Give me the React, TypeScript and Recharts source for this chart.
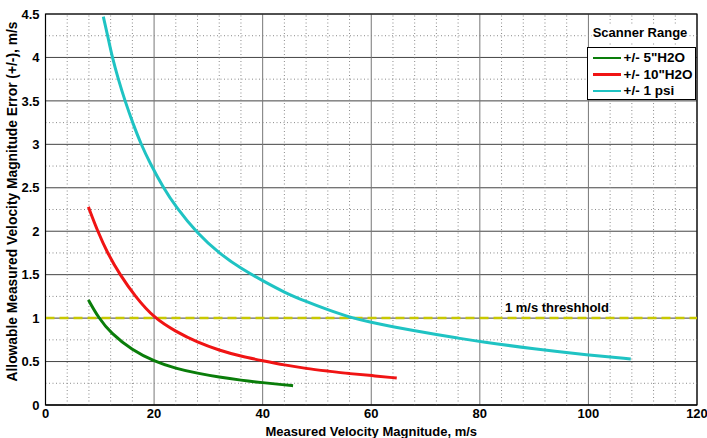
import React from "react";
import {
  LineChart,
  Line,
  XAxis,
  YAxis,
  CartesianGrid,
  ReferenceLine,
  ReferenceArea,
} from "recharts";

const h2o5X = [7.9, 9.8, 12, 16, 20, 24, 28, 32, 36, 40, 44, 45.6];
const h2o5Y = [1.21, 1.0, 0.83, 0.63, 0.505, 0.42, 0.365, 0.32, 0.285, 0.257, 0.232, 0.222];

const h2o10X = [7.9, 9.6, 11.4, 13.7, 16.5, 20, 24, 28, 32, 36, 40, 44, 48, 52, 56, 60, 64.7];
const h2o10Y = [2.28, 2.0, 1.75, 1.5, 1.25, 1.0, 0.845, 0.72, 0.63, 0.56, 0.51, 0.46, 0.42, 0.39, 0.36, 0.34, 0.31];

const psi1X = [10.65, 11.45, 12.3, 13.4, 14.64, 16.05, 17.6, 19.2, 21.7, 24, 28, 32, 36, 40, 44, 48, 52, 56, 60, 64, 68, 72, 76, 80, 90, 100, 107.8];
const psi1Y = [4.47, 4.25, 4.0, 3.75, 3.5, 3.25, 3.0, 2.79, 2.5, 2.28, 1.97, 1.745, 1.57, 1.43, 1.295, 1.19, 1.095, 1.01, 0.95, 0.9, 0.855, 0.81, 0.77, 0.73, 0.645, 0.575, 0.53];

const xTicks = [0, 20, 40, 60, 80, 100, 120];
const yTicks = [0, 0.5, 1, 1.5, 2, 2.5, 3, 3.5, 4, 4.5];
const xMinor = [4, 8, 12, 16, 24, 28, 32, 36, 44, 48, 52, 56, 64, 68, 72, 76, 84, 88, 92, 96, 104, 108, 112, 116];
const yMinor = [0.25, 0.75, 1.25, 1.75, 2.25, 2.75, 3.25, 3.75, 4.25];

const threshold = 1;

const series = [
  { name: '+/- 5"H2O', xs: h2o5X, ys: h2o5Y, color: "#0a7d0a" },
  { name: '+/- 10"H2O', xs: h2o10X, ys: h2o10Y, color: "#f01414" },
  { name: "+/- 1 psi", xs: psi1X, ys: psi1Y, color: "#1fc3c3" },
];

const FONT = '"Liberation Sans", Arial, sans-serif';

const toPoints = (xs: number[], ys: number[]) =>
  xs.map((x, i) => ({ x, y: ys[i] }));

const YTitle = (props: any) => {
  const vb = props.viewBox;
  const cy = vb.y + vb.height / 2 - 8;
  return (
    <text
      x={16.5}
      y={cy}
      transform={`rotate(-90, 16.5, ${cy})`}
      textAnchor="middle"
      fontFamily={FONT}
      fontWeight="bold"
      fontSize={13.8}
      fill="#000"
    >
      Allowable Measured Velocity Magnitude Error (+/-), m/s
    </text>
  );
};

const XTitle = (props: any) => {
  const vb = props.viewBox;
  return (
    <text
      x={vb.x + vb.width / 2}
      y={vb.y + 31}
      textAnchor="middle"
      fontFamily={FONT}
      fontWeight="bold"
      fontSize={13}
      fill="#000"
    >
      Measured Velocity Magnitude, m/s
    </text>
  );
};

const ThresholdLabel = (props: any) => {
  const vb = props.viewBox;
  return (
    <text
      x={vb.x + vb.width * 0.785}
      y={vb.y - 6}
      textAnchor="middle"
      fontFamily={FONT}
      fontWeight="bold"
      fontSize={13}
      fill="#000"
    >
      1 m/s threshhold
    </text>
  );
};

export default function App() {
  const tickStyle = {
    fontFamily: FONT,
    fontWeight: "bold" as const,
    fontSize: 13,
    fill: "#000",
  };

  return (
    <div
      style={{
        position: "absolute",
        left: 0,
        top: 0,
        width: 707,
        height: 438,
        background: "#fff",
      }}
    >
      <LineChart
        width={707}
        height={438}
        margin={{ top: 14, right: 10, left: 0, bottom: 0 }}
      >
        <XAxis
          type="number"
          dataKey="x"
          domain={[0, 120]}
          ticks={xTicks}
          allowDataOverflow
          tickLine={false}
          tickSize={0}
          tickMargin={4}
          axisLine={{ stroke: "#000" }}
          tick={tickStyle}
          height={33}
          label={{ content: XTitle }}
        />
        <YAxis
          type="number"
          domain={[0, 4.5]}
          ticks={yTicks}
          allowDataOverflow
          tickLine={false}
          tickSize={0}
          tickMargin={6}
          axisLine={{ stroke: "#000" }}
          tick={tickStyle}
          width={45.5}
          label={{ content: YTitle }}
        />
        <CartesianGrid vertical={false} stroke="#444" strokeWidth={1} />
        <CartesianGrid horizontal={false} stroke="#777" strokeWidth={1} />
        {xMinor.map((v) => (
          <ReferenceLine
            key={`xm-${v}`}
            x={v}
            stroke="#8a8a8a"
            strokeWidth={1}
            strokeDasharray="1 2.5"
          />
        ))}
        {yMinor.map((v) => (
          <ReferenceLine
            key={`ym-${v}`}
            y={v}
            stroke="#8a8a8a"
            strokeWidth={1}
            strokeDasharray="1 2.5"
          />
        ))}
        <ReferenceLine
          y={threshold}
          stroke="#c8c800"
          strokeWidth={2.5}
          strokeDasharray="9 5"
          label={{ content: ThresholdLabel }}
        />
        {series.map((s) => (
          <Line
            key={s.name}
            data={toPoints(s.xs, s.ys)}
            dataKey="y"
            name={s.name}
            type="basis"
            stroke={s.color}
            strokeWidth={3}
            dot={false}
            isAnimationActive={false}
          />
        ))}
        <ReferenceArea
          x1={0}
          x2={120}
          y1={0}
          y2={4.5}
          fill="none"
          fillOpacity={0}
          stroke="#000"
          strokeWidth={1.2}
        />
      </LineChart>

      <div
        style={{
          position: "absolute",
          left: 592,
          top: 25,
          width: 96,
          background: "#fff",
          fontFamily: FONT,
          fontWeight: "bold",
          fontSize: 13,
          lineHeight: "16px",
          textAlign: "center",
          whiteSpace: "nowrap",
        }}
      >
        Scanner Range
      </div>
      <div
        style={{
          position: "absolute",
          left: 586.5,
          top: 46.5,
          width: 109,
          height: 53,
          border: "1px solid #000",
          background: "#fff",
          boxSizing: "border-box",
          paddingTop: 2,
          fontFamily: FONT,
          fontWeight: "bold",
          fontSize: 13.5,
        }}
      >
        {series.map((s) => (
          <div
            key={s.name}
            style={{
              display: "flex",
              alignItems: "center",
              height: 16.5,
              whiteSpace: "nowrap",
            }}
          >
            <span
              style={{
                display: "inline-block",
                marginLeft: 5,
                width: 28,
                height: 2.5,
                background: s.color,
                marginRight: 3,
              }}
            />
            <span>{s.name}</span>
          </div>
        ))}
      </div>
    </div>
  );
}
